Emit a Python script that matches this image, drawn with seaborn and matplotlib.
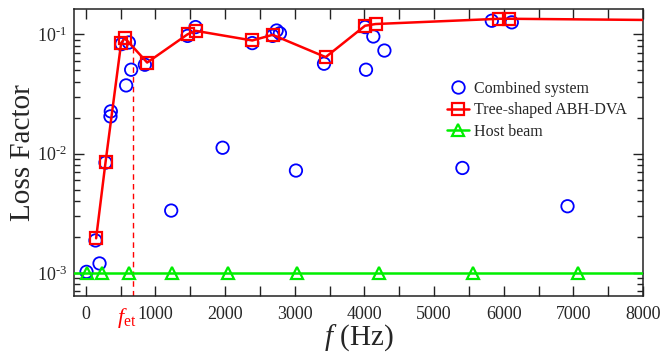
import numpy as np
import matplotlib
matplotlib.use("Agg")
import matplotlib.pyplot as plt
from matplotlib.lines import Line2D
from matplotlib.ticker import MultipleLocator, LogLocator, NullFormatter, FuncFormatter
import seaborn as sns

# Combined system (beam + tree-shaped ABH-DVA)
combined_f = [10, 139, 197, 283, 354, 359, 513, 579, 618, 651, 848, 1226,
              1461, 1576, 1964, 2390, 2682, 2740, 2787, 3017, 3420, 4009,
              4023, 4128, 4287, 5407, 5829, 6116, 6916]
combined_eta = [1.02e-3, 1.87e-3, 1.20e-3, 8.4e-3, 0.0205, 0.0226, 0.0828,
                0.0373, 0.0854, 0.0505, 0.0556, 3.33e-3, 0.097, 0.115,
                0.0112, 0.0844, 0.097, 0.1076, 0.102, 7.21e-3, 0.0567, 0.115,
                0.0505, 0.0959, 0.0731, 7.58e-3, 0.130, 0.126, 3.62e-3]

# Tree-shaped ABH-DVA alone (last entry continues the curve past the axis end)
dva_f = [148, 283, 507, 560, 881, 1461, 1576, 2390, 2682, 3444, 4009, 4162,
         5938, 6082, 8000]
dva_eta = [1.95e-3, 8.45e-3, 0.0844, 0.093, 0.058, 0.100, 0.107, 0.0888,
           0.099, 0.0644, 0.118, 0.122, 0.135, 0.135, 0.132]

# Host beam (constant loss factor); end entries extend the line to the frame
host_f = [-400, 10, 226, 622, 1231, 2036, 3027, 4210, 5556, 7073, 8400]
host_eta = [1.0e-3] * len(host_f)

# Transition frequency
f_et = 680
f_et_eta = 0.085

sns.set_theme(style="ticks")
plt.rcParams.update({
    "font.family": ["Liberation Serif", "DejaVu Serif"],
    "mathtext.fontset": "custom",
    "mathtext.rm": "Liberation Serif",
    "mathtext.it": "Liberation Serif:italic",
    "mathtext.default": "regular",
    "axes.unicode_minus": False,
})

fig = plt.figure(figsize=(6.64, 3.56), dpi=100)
ax = fig.add_axes([0.1114, 0.1685, 0.8570, 0.8062])

blue, red, green = "#0000ff", "#ff0000", "#00ee00"

sns.scatterplot(x=combined_f, y=combined_eta, ax=ax, marker="o", s=80,
                facecolor="none", edgecolor=blue, linewidth=1.3, zorder=2)

sns.lineplot(x=dva_f, y=dva_eta, ax=ax, color=red, linewidth=1.8,
             marker="s", markersize=8.5, markerfacecolor="none",
             markeredgecolor=red, markeredgewidth=1.6, estimator=None,
             sort=False, markevery=list(range(len(dva_f) - 1)), zorder=3)

sns.lineplot(x=host_f, y=host_eta, ax=ax, color=green, linewidth=1.8,
             marker="^", markersize=9, markerfacecolor="none",
             markeredgecolor=green, markeredgewidth=1.6, estimator=None,
             sort=False, markevery=list(range(1, len(host_f) - 1)), zorder=4)

ax.set_yscale("log")
ax.set_xlim(-170, 8000)
ax.set_ylim(6.4e-4, 0.163)

ax.vlines(f_et, 6.4e-4, f_et_eta, colors=red, linestyles=(0, (4, 3)),
          linewidth=1.0, zorder=1)


def decade_label(v, pos):
    exp = int(round(np.log10(v)))
    sign = "-" if exp < 0 else ""
    return r"$10^{\text{%s%d}}$" % (sign, abs(exp))


ax.xaxis.set_major_locator(MultipleLocator(1000))
ax.xaxis.set_minor_locator(MultipleLocator(500))
ax.yaxis.set_major_locator(LogLocator(base=10))
ax.yaxis.set_major_formatter(FuncFormatter(decade_label))
ax.yaxis.set_minor_locator(LogLocator(base=10, subs=np.arange(2, 10)))
ax.yaxis.set_minor_formatter(NullFormatter())

ax.tick_params(which="both", direction="in", top=True, right=True,
               width=1.0, color="#222222", labelsize=13)
ax.tick_params(axis="x", which="major", pad=7)
ax.tick_params(axis="y", which="major", pad=5)
ax.tick_params(which="major", length=7)
ax.tick_params(axis="x", which="minor", length=7)
ax.tick_params(axis="y", which="minor", length=4.5)
for sp in ax.spines.values():
    sp.set_linewidth(1.1)
    sp.set_color("#222222")

ax.set_xlabel(r"$\mathit{f}$ (Hz)", fontsize=21, labelpad=0)
ax.set_ylabel("Loss Factor", fontsize=21)
ax.yaxis.set_label_coords(-0.067, 0.5)

ax.text(f_et - 90, -0.035, r"$\mathit{f}_{\rm et}$", color=red, fontsize=16,
        ha="center", va="top", transform=ax.get_xaxis_transform())

handles = [
    Line2D([], [], linestyle="none", marker="o", markersize=9,
           markerfacecolor="none", markeredgecolor=blue, markeredgewidth=1.3),
    Line2D([], [], color=red, linewidth=1.8, marker="s", markersize=8.5,
           markerfacecolor="none", markeredgecolor=red, markeredgewidth=1.6),
    Line2D([], [], color=green, linewidth=1.8, marker="^", markersize=9,
           markerfacecolor="none", markeredgecolor=green, markeredgewidth=1.6),
]
labels = ["Combined system", "Tree-shaped ABH-DVA", "Host beam"]
ax.legend(handles, labels, loc="upper left", bbox_to_anchor=(0.644, 0.772),
          frameon=False, fontsize=11.5, handlelength=1.4, handletextpad=0.3,
          labelspacing=0.35, borderaxespad=0)

fig.savefig("out.png", dpi=100)
